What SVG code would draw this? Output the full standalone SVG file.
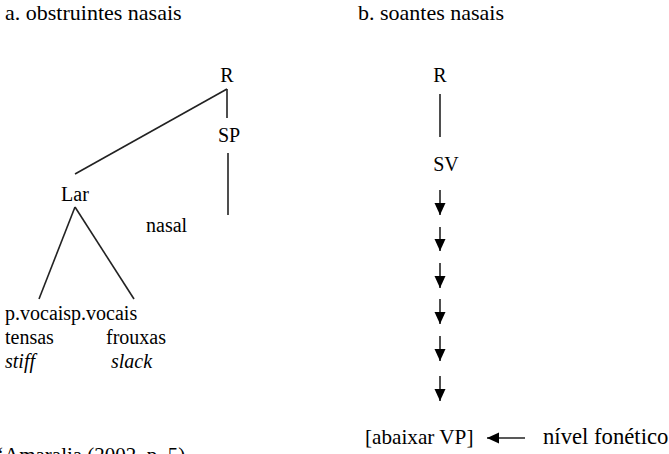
<svg xmlns="http://www.w3.org/2000/svg" width="669" height="454" viewBox="0 0 669 454">
<style>
text{font-size:20px;fill:#000}
.big{font-size:22px}
.ab{font-size:21.2px}
.nv{font-size:22.7px}
.ft{font-size:21px}
.it{font-style:italic}
.ln{stroke:#222;stroke-width:1.6;fill:none}
.m{text-anchor:middle}
</style>
<defs>
<marker id="ah" markerWidth="12" markerHeight="12" viewBox="0 0 12 12" refX="12" refY="6" orient="auto" markerUnits="userSpaceOnUse">
<path d="M0,0.5 L12,6 L0,11.5 Z" fill="#000"/>
</marker>
</defs>
<rect width="669" height="454" fill="#fff"/>
<g font-family="'Liberation Serif', 'Times New Roman', Times, serif">
<text class="big" x="5" y="20">a. obstruintes nasais</text>
<text class="big" x="358" y="20">b. soantes nasais</text>
<g id="a-R"><text class="m" x="227" y="82">R</text></g>
<g id="a-SP"><text class="m" x="229" y="142">SP</text></g>
<g id="a-Lar"><text class="m" x="75" y="201">Lar</text></g>
<g id="a-nasal"><text x="146" y="232">nasal</text></g>
<g id="a-leaves">
<text x="5" y="320">p.vocaisp.vocais</text>
<text x="5" y="344">tensas</text>
<text x="106" y="344">frouxas</text>
<text class="it" x="5" y="368">stiff</text>
<text class="it" x="111" y="368">slack</text>
</g>
<g id="b-R"><text class="m" x="440" y="82">R</text></g>
<g id="b-SV"><text class="m" x="446" y="171">SV</text></g>
<g id="b-out"><text class="ab" x="365" y="444">[abaixar VP]</text></g>
<g id="b-nivel"><text class="nv" x="543" y="444">nível fonético</text></g>
<text class="ft" x="-3" y="462">‘Amaralia (2002, p. 5)</text>
</g>
<g id="connectors">
<line class="ln" x1="227" y1="89" x2="75" y2="174"/>
<line class="ln" x1="227" y1="89" x2="227" y2="118"/>
<line class="ln" x1="228" y1="153" x2="228" y2="215"/>
<line class="ln" x1="75" y1="207" x2="39" y2="299"/>
<line class="ln" x1="75" y1="207" x2="134" y2="299"/>
<line class="ln" x1="440" y1="94" x2="440" y2="137"/>
<g stroke="#222" stroke-width="1.6" marker-end="url(#ah)">
<line x1="440" y1="190" x2="440" y2="215"/>
<line x1="440" y1="227" x2="440" y2="251"/>
<line x1="440" y1="263" x2="440" y2="288"/>
<line x1="440" y1="299" x2="440" y2="324"/>
<line x1="440" y1="336" x2="440" y2="361"/>
<line x1="440" y1="376" x2="440" y2="401"/>
<line x1="525" y1="438" x2="487" y2="438"/>
</g>
</g>
</svg>
